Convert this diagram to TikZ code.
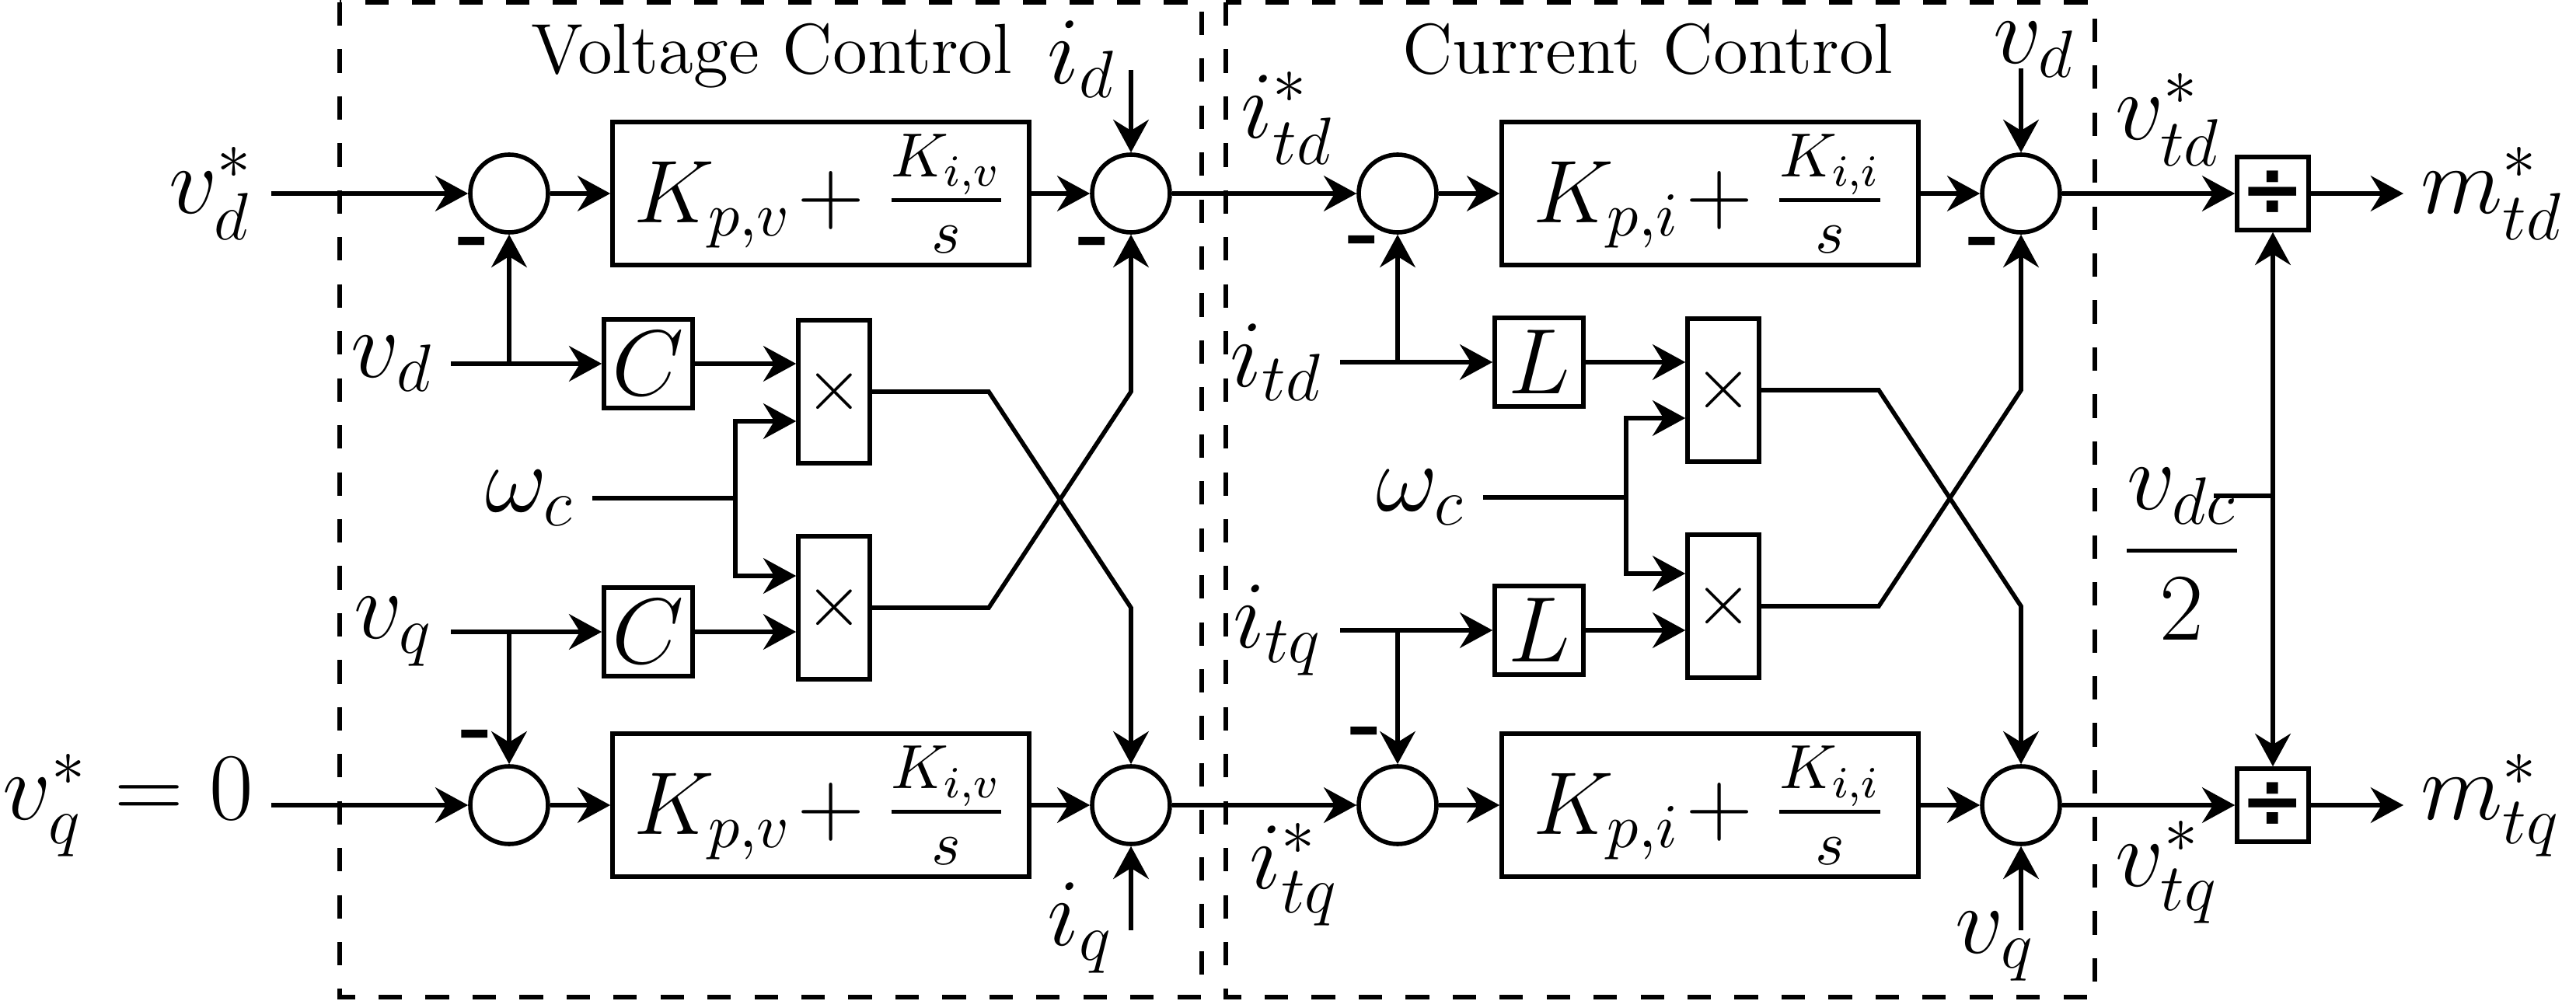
\RequirePackage{fix-cm}
\documentclass[tikz,border=0pt]{standalone}
\usepackage{amsmath}
\usepackage{fontspec}
\newfontfamily\dvfont{DejaVu Sans}
\usetikzlibrary{arrows.meta,positioning}

\begin{document}
\begin{tikzpicture}[x=0.5cm,y=-0.5cm,
  sig/.style={-{Stealth[length=6pt,width=6.5pt,inset=2pt]},thick},
  frame/.style={thick,dash pattern=on 4.3pt off 4.3pt},
  lbl/.style={font=\fontsize{17.5}{21}\selectfont,inner sep=3pt},
  sumnode/.style={circle,draw,thick,minimum size=0.5cm,inner sep=0pt},
  pibox/.style={draw,thick,minimum width=2.68cm,minimum height=0.92cm,inner sep=0pt,font=\fontsize{16.3}{20}\selectfont},
  gainbox/.style={draw,thick,minimum size=0.57cm,inner sep=0pt,font=\fontsize{17}{20}\selectfont},
  multbox/.style={draw,thick,minimum width=0.46cm,minimum height=0.92cm,inner sep=0pt,font=\fontsize{13.5}{16}\selectfont},
  divbox/.style={draw,thick,minimum width=0.46cm,minimum height=0.47cm,inner sep=0pt,font=\fontsize{14}{16}\dvfont\bfseries},
  neg/.style={font=\fontsize{16}{18}\selectfont\bfseries,inner sep=0pt},
  title/.style={font=\fontsize{13}{15}\selectfont,anchor=base}]

  \useasboundingbox (0,0) rectangle (33.14,12.88);

  % ---- Frames ------------------------------------------------
  \draw[frame] (4.37,0.03) rectangle (15.46,12.83);
  \draw[frame] (15.77,0.03) rectangle (26.95,12.83);
  \node[title] (vctitle) at (9.93,0.95) {Voltage Control};
  \node[title] (cctitle) at (21.20,0.95) {Current Control};

  % ---- Voltage control ---------------------------------------
  \node[lbl,left] (vdref) at (3.49,2.49) {$v_d^*$};
  \node[sumnode] (s1) at (6.55,2.49) {};
  \node[pibox] (pv1) at (10.56,2.49) {$K_{p,v}\mskip-3mu+\frac{K_{i,v}}{s}$};
  \node[sumnode] (s2) at (14.55,2.49) {};
  \node[lbl,inner sep=1pt] (idlab) at (13.92,0.76) {$i_d$};
  \coordinate (idin) at (14.55,0.90);

  \node[lbl,left] (vd1) at (5.80,4.68) {$v_d$};
  \node[gainbox] (c1) at (8.34,4.68) {$C$};
  \node[multbox] (x1) at (10.73,5.04) {$\times$};
  \node[lbl,left] (wc1) at (7.62,6.41) {$\omega_c$};
  \coordinate (wa1) at (9.46,5.42);
  \coordinate (wb1) at (9.46,7.41);
  \node[lbl,left] (vq1) at (5.80,8.13) {$v_q$};
  \node[gainbox] (c2) at (8.34,8.13) {$C$};
  \node[multbox] (x2) at (10.73,7.82) {$\times$};

  \node[lbl,left] (vqref) at (3.49,10.36) {$v_q^*=0$};
  \node[sumnode] (s5) at (6.55,10.36) {};
  \node[pibox] (pv2) at (10.56,10.36) {$K_{p,v}\mskip-3mu+\frac{K_{i,v}}{s}$};
  \node[sumnode] (s6) at (14.55,10.36) {};
  \node[lbl] (iqlab) at (13.90,11.94) {$i_q$};
  \coordinate (iqin) at (14.55,11.97);

  \node[neg] (n1) at (6.10,3.20) {-};
  \node[neg] (n2) at (14.08,3.20) {-};
  \node[neg] (n5) at (6.14,9.54) {-};

  \draw[sig] (vdref) -- (s1);
  \draw[sig] (s1) -- (pv1);
  \draw[sig] (pv1) -- (s2);
  \draw[sig] (idin) -- (s2);
  \draw[sig] (vd1) -- (c1);
  \draw[sig] (s1 |- vd1.east) -- (s1);
  \draw[sig] (c1) -- (c1 -| x1.west);
  \draw[sig] (wc1) -| (wa1) -- (wa1 -| x1.west);
  \draw[sig] (wc1) -| (wb1) -- (wb1 -| x2.west);
  \draw[sig] (vq1) -- (c2);
  \draw[sig] (c2) -- (c2 -| x2.west);
  \draw[sig] (s5 |- vq1.east) -- (s5);
  \draw[sig] (vqref) -- (s5);
  \draw[sig] (s5) -- (pv2);
  \draw[sig] (pv2) -- (s6);
  \draw[sig] (iqin) -- (s6);

  % cross coupling
  \coordinate (ka1) at (12.72,5.04);
  \coordinate (kb1) at (12.72,7.82);
  \draw[sig] (x1) -- (ka1) -- (s6 |- kb1) -- (s6);
  \draw[sig] (x2) -- (kb1) -- (s2 |- ka1) -- (s2);

  % ---- Current control ---------------------------------------
  \node[lbl] (itdref) at (16.56,1.52) {$i_{td}^*$};
  \node[sumnode] (s3) at (17.98,2.49) {};
  \node[pibox] (pi1) at (22.00,2.49) {$K_{p,i}\mskip-3mu+\frac{K_{i,i}}{s}$};
  \node[sumnode] (s4) at (26.00,2.49) {};
  \node[lbl,inner sep=1pt] (vdtop) at (26.17,0.64) {$v_d$};
  \coordinate (vdin) at (26.00,0.88);

  \node[lbl,left] (itd) at (17.24,4.66) {$i_{td}$};
  \node[gainbox] (l1) at (19.80,4.66) {$L$};
  \node[multbox] (x3) at (22.17,5.02) {$\times$};
  \node[lbl,left] (wc2) at (19.08,6.40) {$\omega_c$};
  \coordinate (wa2) at (20.92,5.38);
  \coordinate (wb2) at (20.92,7.38);
  \node[lbl,left] (itq) at (17.24,8.11) {$i_{tq}$};
  \node[gainbox] (l2) at (19.80,8.11) {$L$};
  \node[multbox] (x4) at (22.17,7.80) {$\times$};

  \node[lbl] (itqref) at (16.65,11.25) {$i_{tq}^*$};
  \node[sumnode] (s7) at (17.98,10.36) {};
  \node[pibox] (pi2) at (22.00,10.36) {$K_{p,i}\mskip-3mu+\frac{K_{i,i}}{s}$};
  \node[sumnode] (s8) at (26.00,10.36) {};
  \node[lbl] (vqbot) at (25.67,12.18) {$v_q$};
  \coordinate (vqin) at (26.00,11.97);

  \node[neg] (n3) at (17.55,3.18) {-};
  \node[neg] (n4) at (25.53,3.20) {-};
  \node[neg] (n7) at (17.58,9.50) {-};

  \draw[sig] (s2) -- (s3);
  \draw[sig] (s3) -- (pi1);
  \draw[sig] (pi1) -- (s4);
  \draw[sig] (vdin) -- (s4);
  \draw[sig] (itd) -- (l1);
  \draw[sig] (s3 |- itd.east) -- (s3);
  \draw[sig] (l1) -- (l1 -| x3.west);
  \draw[sig] (wc2) -| (wa2) -- (wa2 -| x3.west);
  \draw[sig] (wc2) -| (wb2) -- (wb2 -| x4.west);
  \draw[sig] (itq) -- (l2);
  \draw[sig] (l2) -- (l2 -| x4.west);
  \draw[sig] (s7 |- itq.east) -- (s7);
  \draw[sig] (s6) -- (s7);
  \draw[sig] (s7) -- (pi2);
  \draw[sig] (pi2) -- (s8);
  \draw[sig] (vqin) -- (s8);

  % cross coupling
  \coordinate (ka2) at (24.17,5.02);
  \coordinate (kb2) at (24.17,7.80);
  \draw[sig] (x3) -- (ka2) -- (s8 |- kb2) -- (s8);
  \draw[sig] (x4) -- (kb2) -- (s4 |- ka2) -- (s4);

  % ---- Modulation --------------------------------------------
  \node[lbl] (vtd) at (27.89,1.54) {$v_{td}^*$};
  \node[divbox] (d1) at (29.24,2.49) {÷};
  \node[lbl,right] (mtd) at (30.92,2.49) {$m_{td}^*$};
  \node[lbl] (vtq) at (27.88,11.22) {$v_{tq}^*$};
  \node[divbox] (d2) at (29.24,10.36) {÷};
  \node[lbl,right] (mtq) at (30.92,10.36) {$m_{tq}^*$};
  \node[lbl] (vdc) at (28.07,7.13) {$\dfrac{v_{dc}}{2}$};
  \coordinate (vdcin) at (28.48,6.38);

  \draw[sig] (s4) -- (d1);
  \draw[sig] (d1) -- (mtd);
  \draw[sig] (s8) -- (d2);
  \draw[sig] (d2) -- (mtq);
  \draw[sig] (vdcin) -| (d1);
  \draw[sig] (vdcin) -| (d2);

\end{tikzpicture}
\end{document}
